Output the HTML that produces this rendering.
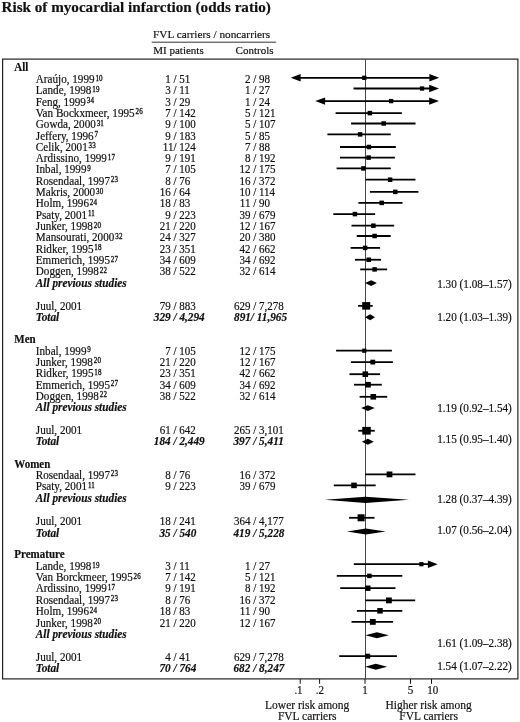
<!DOCTYPE html>
<html><head><meta charset="utf-8"><title>Risk of myocardial infarction (odds ratio)</title><style>
html,body{margin:0;padding:0;background:#fff;}
body{width:520px;height:722px;overflow:hidden;position:relative;}
svg{position:absolute;left:0;top:0;filter:grayscale(1);}
text{font-family:"Liberation Serif",serif;fill:#111;stroke:#111;stroke-width:0.18px;}
.sup{stroke-width:0.45px;}
</style></head><body>
<svg width="520" height="722" viewBox="0 0 520 722" font-size="11">
<text x="1.5" y="11.5" font-size="15.15" font-weight="bold">Risk of myocardial infarction (odds ratio)</text>
<text x="153.0" y="37.8" font-size="11.3">FVL carriers / noncarriers</text>
<path d="M151.7 42.2H276.2" stroke="#333" stroke-width="1"/>
<text x="153.3" y="53.7">MI patients</text>
<text x="235.6" y="53.7">Controls</text>
<rect x="2.6" y="59.1" width="515.3" height="619.8" fill="none" stroke="#222" stroke-width="1.2"/>
<path d="M365.5 59V679" stroke="#444" stroke-width="1"/>
<g stroke="#111" stroke-width="1"><path d="M300.2 679V683.8"/><path d="M319.6 679V683.8"/><path d="M365.0 679V683.8"/><path d="M410.5 679V683.8"/><path d="M431.5 679V683.8"/></g>
<g stroke="#000" stroke-width="1.8" fill="none">
<path d="M295.80 77.80H434.20"/>
<path d="M353.50 88.50H434.00"/>
<path d="M320.30 101.10H434.00"/>
<path d="M335.60 113.10H401.90"/>
<path d="M351.10 123.50H415.50"/>
<path d="M327.40 134.40H390.80"/>
<path d="M340.00 147.00H395.80"/>
<path d="M340.00 157.60H394.90"/>
<path d="M336.60 168.40H390.80"/>
<path d="M365.60 179.70H415.50"/>
<path d="M369.90 191.90H418.40"/>
<path d="M358.40 202.90H402.50"/>
<path d="M333.30 214.10H375.10"/>
<path d="M351.50 225.70H394.20"/>
<path d="M356.70 236.00H390.70"/>
<path d="M350.60 247.90H380.10"/>
<path d="M355.00 259.75H381.00"/>
<path d="M360.20 269.40H387.10"/>
<path d="M358.10 305.85H372.70"/>
<path d="M336.10 350.70H391.90"/>
<path d="M350.90 362.10H392.90"/>
<path d="M349.50 374.20H380.10"/>
<path d="M354.00 384.70H381.80"/>
<path d="M359.60 396.80H387.20"/>
<path d="M358.30 430.75H374.80"/>
<path d="M365.00 474.40H415.50"/>
<path d="M333.80 485.40H375.70"/>
<path d="M349.10 517.80H374.50"/>
<path d="M353.80 564.20H432.70"/>
<path d="M336.80 575.90H402.30"/>
<path d="M340.20 588.20H395.50"/>
<path d="M365.40 600.40H415.20"/>
<path d="M356.90 610.80H402.30"/>
<path d="M351.50 621.90H393.10"/>
<path d="M339.20 656.20H396.90"/>
</g>
<g fill="#000">
<polygon points="290.80,77.80 300.60,74.10 300.60,81.50"/>
<polygon points="439.20,77.80 429.40,74.10 429.40,81.50"/>
<rect x="362.15" y="75.65" width="4.30" height="4.30"/>
<polygon points="439.00,88.50 429.20,84.80 429.20,92.20"/>
<rect x="419.85" y="86.35" width="4.30" height="4.30"/>
<polygon points="315.30,101.10 325.10,97.40 325.10,104.80"/>
<polygon points="439.00,101.10 429.20,97.40 429.20,104.80"/>
<rect x="388.95" y="98.95" width="4.30" height="4.30"/>
<rect x="367.65" y="110.85" width="4.50" height="4.50"/>
<rect x="381.45" y="121.25" width="4.50" height="4.50"/>
<rect x="357.85" y="132.15" width="4.50" height="4.50"/>
<rect x="366.65" y="144.75" width="4.50" height="4.50"/>
<rect x="366.35" y="155.35" width="4.50" height="4.50"/>
<rect x="361.15" y="166.15" width="4.50" height="4.50"/>
<rect x="387.85" y="177.45" width="4.50" height="4.50"/>
<rect x="393.05" y="189.65" width="4.50" height="4.50"/>
<rect x="379.45" y="200.65" width="4.50" height="4.50"/>
<rect x="352.65" y="211.85" width="4.50" height="4.50"/>
<rect x="371.15" y="223.45" width="4.50" height="4.50"/>
<rect x="372.35" y="233.75" width="4.50" height="4.50"/>
<rect x="362.85" y="245.65" width="4.50" height="4.50"/>
<rect x="366.55" y="257.50" width="4.50" height="4.50"/>
<rect x="372.35" y="267.15" width="4.50" height="4.50"/>
<polygon points="365.00,283.10 371.20,280.15 376.90,283.10 371.20,286.05"/>
<rect x="362.20" y="302.10" width="8.00" height="7.50"/>
<polygon points="365.00,317.20 370.20,314.25 375.00,317.20 370.20,320.15"/>
<rect x="362.20" y="348.60" width="4.20" height="4.20"/>
<rect x="370.40" y="359.70" width="4.80" height="4.80"/>
<rect x="362.50" y="371.40" width="5.60" height="5.60"/>
<rect x="365.20" y="381.90" width="5.60" height="5.60"/>
<rect x="370.50" y="394.00" width="5.60" height="5.60"/>
<polygon points="361.20,408.10 367.80,405.15 374.80,408.10 367.80,411.05"/>
<rect x="362.25" y="426.90" width="8.50" height="7.70"/>
<polygon points="361.90,441.80 367.80,438.85 373.80,441.80 367.80,444.75"/>
<rect x="386.60" y="471.50" width="5.80" height="5.80"/>
<rect x="351.20" y="482.60" width="5.60" height="5.60"/>
<polygon points="324.80,499.80 365.40,496.65 409.00,499.80 365.40,502.95"/>
<rect x="357.60" y="514.30" width="7.00" height="7.00"/>
<polygon points="347.00,531.50 365.80,528.50 385.70,531.50 365.80,534.50"/>
<polygon points="437.70,564.20 427.90,560.50 427.90,567.90"/>
<rect x="419.30" y="562.10" width="4.20" height="4.20"/>
<rect x="367.15" y="573.65" width="4.50" height="4.50"/>
<rect x="365.10" y="585.50" width="5.40" height="5.40"/>
<rect x="386.00" y="597.50" width="5.80" height="5.80"/>
<rect x="377.25" y="608.05" width="5.50" height="5.50"/>
<rect x="369.90" y="619.00" width="5.80" height="5.80"/>
<polygon points="365.40,635.30 376.90,632.35 388.80,635.30 376.90,638.25"/>
<rect x="365.20" y="653.70" width="5.00" height="5.00"/>
<polygon points="365.10,666.80 375.80,663.85 387.20,666.80 375.80,669.75"/>
</g>
<text transform="matrix(1 0 0 1.06 14.30 71.10)" font-weight="bold">All</text>
<text transform="matrix(1 0 0 1.06 35.8 82.90)" font-size="11.15">Araújo, 1999</text>
<text class="sup" transform="matrix(0.64 0 0 0.6784 95.40 80.50)" letter-spacing="0.3">10</text>
<text transform="matrix(1 0 0 1.06 173.47 82.90)" text-anchor="end">1&#160;</text>
<text transform="matrix(1 0 0 1.06 173.47 82.90)">/&#160;51</text>
<text transform="matrix(1 0 0 1.06 253.17 82.90)" text-anchor="end">2&#160;</text>
<text transform="matrix(1 0 0 1.06 253.17 82.90)">/&#160;98</text>
<text transform="matrix(1 0 0 1.06 35.8 94.22)" font-size="11.15">Lande, 1998</text>
<text class="sup" transform="matrix(0.64 0 0 0.6784 92.29 91.82)" letter-spacing="0.3">19</text>
<text transform="matrix(1 0 0 1.06 173.47 94.22)" text-anchor="end">3&#160;</text>
<text transform="matrix(1 0 0 1.06 173.47 94.22)">/&#160;11</text>
<text transform="matrix(1 0 0 1.06 253.17 94.22)" text-anchor="end">1&#160;</text>
<text transform="matrix(1 0 0 1.06 253.17 94.22)">/&#160;27</text>
<text transform="matrix(1 0 0 1.06 35.8 105.54)" font-size="11.15">Feng, 1999</text>
<text class="sup" transform="matrix(0.64 0 0 0.6784 86.74 103.14)" letter-spacing="0.3">34</text>
<text transform="matrix(1 0 0 1.06 173.47 105.54)" text-anchor="end">3&#160;</text>
<text transform="matrix(1 0 0 1.06 173.47 105.54)">/&#160;29</text>
<text transform="matrix(1 0 0 1.06 253.17 105.54)" text-anchor="end">1&#160;</text>
<text transform="matrix(1 0 0 1.06 253.17 105.54)">/&#160;24</text>
<text transform="matrix(1 0 0 1.06 35.8 116.86)" font-size="11.15">Van Bockxmeer, 1995</text>
<text class="sup" transform="matrix(0.64 0 0 0.6784 135.48 114.46)" letter-spacing="0.3">26</text>
<text transform="matrix(1 0 0 1.06 173.47 116.86)" text-anchor="end">7&#160;</text>
<text transform="matrix(1 0 0 1.06 173.47 116.86)">/&#160;142</text>
<text transform="matrix(1 0 0 1.06 253.17 116.86)" text-anchor="end">5&#160;</text>
<text transform="matrix(1 0 0 1.06 253.17 116.86)">/&#160;121</text>
<text transform="matrix(1 0 0 1.06 35.8 128.18)" font-size="11.15">Gowda, 2000</text>
<text class="sup" transform="matrix(0.64 0 0 0.6784 96.63 125.78)" letter-spacing="0.3">31</text>
<text transform="matrix(1 0 0 1.06 173.47 128.18)" text-anchor="end">9&#160;</text>
<text transform="matrix(1 0 0 1.06 173.47 128.18)">/&#160;100</text>
<text transform="matrix(1 0 0 1.06 253.17 128.18)" text-anchor="end">5&#160;</text>
<text transform="matrix(1 0 0 1.06 253.17 128.18)">/&#160;107</text>
<text transform="matrix(1 0 0 1.06 35.8 139.50)" font-size="11.15">Jeffery, 1996</text>
<text class="sup" transform="matrix(0.64 0 0 0.6784 94.46 137.10)" letter-spacing="0.3">7</text>
<text transform="matrix(1 0 0 1.06 173.47 139.50)" text-anchor="end">9&#160;</text>
<text transform="matrix(1 0 0 1.06 173.47 139.50)">/&#160;183</text>
<text transform="matrix(1 0 0 1.06 253.17 139.50)" text-anchor="end">5&#160;</text>
<text transform="matrix(1 0 0 1.06 253.17 139.50)">/&#160;85</text>
<text transform="matrix(1 0 0 1.06 35.8 150.82)" font-size="11.15">Celik, 2001</text>
<text class="sup" transform="matrix(0.64 0 0 0.6784 88.60 148.42)" letter-spacing="0.3">33</text>
<text transform="matrix(1 0 0 1.06 173.47 150.82)" text-anchor="end">11</text>
<text transform="matrix(1 0 0 1.06 173.47 150.82)">/&#160;124</text>
<text transform="matrix(1 0 0 1.06 253.17 150.82)" text-anchor="end">7&#160;</text>
<text transform="matrix(1 0 0 1.06 253.17 150.82)">/&#160;88</text>
<text transform="matrix(1 0 0 1.06 35.8 162.14)" font-size="11.15">Ardissino, 1999</text>
<text class="sup" transform="matrix(0.64 0 0 0.6784 107.79 159.74)" letter-spacing="0.3">17</text>
<text transform="matrix(1 0 0 1.06 173.47 162.14)" text-anchor="end">9&#160;</text>
<text transform="matrix(1 0 0 1.06 173.47 162.14)">/&#160;191</text>
<text transform="matrix(1 0 0 1.06 253.17 162.14)" text-anchor="end">8&#160;</text>
<text transform="matrix(1 0 0 1.06 253.17 162.14)">/&#160;192</text>
<text transform="matrix(1 0 0 1.06 35.8 173.46)" font-size="11.15">Inbal, 1999</text>
<text class="sup" transform="matrix(0.64 0 0 0.6784 87.35 171.06)" letter-spacing="0.3">9</text>
<text transform="matrix(1 0 0 1.06 173.47 173.46)" text-anchor="end">7&#160;</text>
<text transform="matrix(1 0 0 1.06 173.47 173.46)">/&#160;105</text>
<text transform="matrix(1 0 0 1.06 253.17 173.46)" text-anchor="end">12&#160;</text>
<text transform="matrix(1 0 0 1.06 253.17 173.46)">/&#160;175</text>
<text transform="matrix(1 0 0 1.06 35.8 184.78)" font-size="11.15">Rosendaal, 1997</text>
<text class="sup" transform="matrix(0.64 0 0 0.6784 110.87 182.38)" letter-spacing="0.3">23</text>
<text transform="matrix(1 0 0 1.06 173.47 184.78)" text-anchor="end">8&#160;</text>
<text transform="matrix(1 0 0 1.06 173.47 184.78)">/&#160;76</text>
<text transform="matrix(1 0 0 1.06 253.17 184.78)" text-anchor="end">16&#160;</text>
<text transform="matrix(1 0 0 1.06 253.17 184.78)">/&#160;372</text>
<text transform="matrix(1 0 0 1.06 35.8 196.10)" font-size="11.15">Makris, 2000</text>
<text class="sup" transform="matrix(0.64 0 0 0.6784 96.02 193.70)" letter-spacing="0.3">30</text>
<text transform="matrix(1 0 0 1.06 173.47 196.10)" text-anchor="end">16&#160;</text>
<text transform="matrix(1 0 0 1.06 173.47 196.10)">/&#160;64</text>
<text transform="matrix(1 0 0 1.06 253.17 196.10)" text-anchor="end">10&#160;</text>
<text transform="matrix(1 0 0 1.06 253.17 196.10)">/&#160;114</text>
<text transform="matrix(1 0 0 1.06 35.8 207.42)" font-size="11.15">Holm, 1996</text>
<text class="sup" transform="matrix(0.64 0 0 0.6784 89.83 205.02)" letter-spacing="0.3">24</text>
<text transform="matrix(1 0 0 1.06 173.47 207.42)" text-anchor="end">18&#160;</text>
<text transform="matrix(1 0 0 1.06 173.47 207.42)">/&#160;83</text>
<text transform="matrix(1 0 0 1.06 253.17 207.42)" text-anchor="end">11&#160;</text>
<text transform="matrix(1 0 0 1.06 253.17 207.42)">/&#160;90</text>
<text transform="matrix(1 0 0 1.06 35.8 218.74)" font-size="11.15">Psaty, 2001</text>
<text class="sup" transform="matrix(0.64 0 0 0.6784 87.88 216.34)" letter-spacing="0.3">11</text>
<text transform="matrix(1 0 0 1.06 173.47 218.74)" text-anchor="end">9&#160;</text>
<text transform="matrix(1 0 0 1.06 173.47 218.74)">/&#160;223</text>
<text transform="matrix(1 0 0 1.06 253.17 218.74)" text-anchor="end">39&#160;</text>
<text transform="matrix(1 0 0 1.06 253.17 218.74)">/&#160;679</text>
<text transform="matrix(1 0 0 1.06 35.8 230.06)" font-size="11.15">Junker, 1998</text>
<text class="sup" transform="matrix(0.64 0 0 0.6784 93.71 227.66)" letter-spacing="0.3">20</text>
<text transform="matrix(1 0 0 1.06 173.47 230.06)" text-anchor="end">21&#160;</text>
<text transform="matrix(1 0 0 1.06 173.47 230.06)">/&#160;220</text>
<text transform="matrix(1 0 0 1.06 253.17 230.06)" text-anchor="end">12&#160;</text>
<text transform="matrix(1 0 0 1.06 253.17 230.06)">/&#160;167</text>
<text transform="matrix(1 0 0 1.06 35.8 241.38)" font-size="11.15">Mansourati, 2000</text>
<text class="sup" transform="matrix(0.64 0 0 0.6784 115.19 238.98)" letter-spacing="0.3">32</text>
<text transform="matrix(1 0 0 1.06 173.47 241.38)" text-anchor="end">24&#160;</text>
<text transform="matrix(1 0 0 1.06 173.47 241.38)">/&#160;327</text>
<text transform="matrix(1 0 0 1.06 253.17 241.38)" text-anchor="end">20&#160;</text>
<text transform="matrix(1 0 0 1.06 253.17 241.38)">/&#160;380</text>
<text transform="matrix(1 0 0 1.06 35.8 252.70)" font-size="11.15">Ridker, 1995</text>
<text class="sup" transform="matrix(0.64 0 0 0.6784 94.33 250.30)" letter-spacing="0.3">18</text>
<text transform="matrix(1 0 0 1.06 173.47 252.70)" text-anchor="end">23&#160;</text>
<text transform="matrix(1 0 0 1.06 173.47 252.70)">/&#160;351</text>
<text transform="matrix(1 0 0 1.06 253.17 252.70)" text-anchor="end">42&#160;</text>
<text transform="matrix(1 0 0 1.06 253.17 252.70)">/&#160;662</text>
<text transform="matrix(1 0 0 1.06 35.8 264.02)" font-size="11.15">Emmerich, 1995</text>
<text class="sup" transform="matrix(0.64 0 0 0.6784 110.87 261.62)" letter-spacing="0.3">27</text>
<text transform="matrix(1 0 0 1.06 173.47 264.02)" text-anchor="end">34&#160;</text>
<text transform="matrix(1 0 0 1.06 173.47 264.02)">/&#160;609</text>
<text transform="matrix(1 0 0 1.06 253.17 264.02)" text-anchor="end">34&#160;</text>
<text transform="matrix(1 0 0 1.06 253.17 264.02)">/&#160;692</text>
<text transform="matrix(1 0 0 1.06 35.8 275.34)" font-size="11.15">Doggen, 1998</text>
<text class="sup" transform="matrix(0.64 0 0 0.6784 99.72 272.94)" letter-spacing="0.3">22</text>
<text transform="matrix(1 0 0 1.06 173.47 275.34)" text-anchor="end">38&#160;</text>
<text transform="matrix(1 0 0 1.06 173.47 275.34)">/&#160;522</text>
<text transform="matrix(1 0 0 1.06 253.17 275.34)" text-anchor="end">32&#160;</text>
<text transform="matrix(1 0 0 1.06 253.17 275.34)">/&#160;614</text>
<text transform="matrix(1 0 0 1.06 35.80 286.50)" font-size="11.3" font-weight="bold" font-style="italic">All previous studies</text>
<text transform="matrix(1 0 0 1.06 511.80 287.50)" font-size="11.2" text-anchor="end">1.30 (1.08–1.57)</text>
<text transform="matrix(1 0 0 1.06 35.80 309.70)" font-size="11.15">Juul, 2001</text>
<text transform="matrix(1 0 0 1.06 173.47 309.70)" text-anchor="end">79&#160;</text>
<text transform="matrix(1 0 0 1.06 173.47 309.70)">/&#160;883</text>
<text transform="matrix(1 0 0 1.06 253.17 309.70)" text-anchor="end">629&#160;</text>
<text transform="matrix(1 0 0 1.06 253.17 309.70)">/&#160;7,278</text>
<text transform="matrix(1 0 0 1.06 35.80 321.30)" font-size="11.3" font-weight="bold" font-style="italic">Total</text>
<text transform="matrix(1 0 0 1.06 173.47 321.30)" font-size="11.25" font-weight="bold" font-style="italic" text-anchor="end">329&#160;</text>
<text transform="matrix(1 0 0 1.06 173.47 321.30)" font-size="11.25" font-weight="bold" font-style="italic">/&#160;4,294</text>
<text transform="matrix(1 0 0 1.06 250.87 321.30)" font-size="11.25" font-weight="bold" font-style="italic" text-anchor="end">891</text>
<text transform="matrix(1 0 0 1.06 250.87 321.30)" font-size="11.25" font-weight="bold" font-style="italic">/&#160;11,965</text>
<text transform="matrix(1 0 0 1.06 511.80 321.20)" font-size="11.2" text-anchor="end">1.20 (1.03–1.39)</text>
<text transform="matrix(1 0 0 1.06 14.30 343.40)" font-weight="bold">Men</text>
<text transform="matrix(1 0 0 1.06 35.8 354.50)" font-size="11.15">Inbal, 1999</text>
<text class="sup" transform="matrix(0.64 0 0 0.6784 87.35 352.10)" letter-spacing="0.3">9</text>
<text transform="matrix(1 0 0 1.06 173.47 354.50)" text-anchor="end">7&#160;</text>
<text transform="matrix(1 0 0 1.06 173.47 354.50)">/&#160;105</text>
<text transform="matrix(1 0 0 1.06 253.17 354.50)" text-anchor="end">12&#160;</text>
<text transform="matrix(1 0 0 1.06 253.17 354.50)">/&#160;175</text>
<text transform="matrix(1 0 0 1.06 35.8 365.60)" font-size="11.15">Junker, 1998</text>
<text class="sup" transform="matrix(0.64 0 0 0.6784 93.71 363.20)" letter-spacing="0.3">20</text>
<text transform="matrix(1 0 0 1.06 173.47 365.60)" text-anchor="end">21&#160;</text>
<text transform="matrix(1 0 0 1.06 173.47 365.60)">/&#160;220</text>
<text transform="matrix(1 0 0 1.06 253.17 365.60)" text-anchor="end">12&#160;</text>
<text transform="matrix(1 0 0 1.06 253.17 365.60)">/&#160;167</text>
<text transform="matrix(1 0 0 1.06 35.8 377.10)" font-size="11.15">Ridker, 1995</text>
<text class="sup" transform="matrix(0.64 0 0 0.6784 94.33 374.70)" letter-spacing="0.3">18</text>
<text transform="matrix(1 0 0 1.06 173.47 377.10)" text-anchor="end">23&#160;</text>
<text transform="matrix(1 0 0 1.06 173.47 377.10)">/&#160;351</text>
<text transform="matrix(1 0 0 1.06 253.17 377.10)" text-anchor="end">42&#160;</text>
<text transform="matrix(1 0 0 1.06 253.17 377.10)">/&#160;662</text>
<text transform="matrix(1 0 0 1.06 35.8 388.60)" font-size="11.15">Emmerich, 1995</text>
<text class="sup" transform="matrix(0.64 0 0 0.6784 110.87 386.20)" letter-spacing="0.3">27</text>
<text transform="matrix(1 0 0 1.06 173.47 388.60)" text-anchor="end">34&#160;</text>
<text transform="matrix(1 0 0 1.06 173.47 388.60)">/&#160;609</text>
<text transform="matrix(1 0 0 1.06 253.17 388.60)" text-anchor="end">34&#160;</text>
<text transform="matrix(1 0 0 1.06 253.17 388.60)">/&#160;692</text>
<text transform="matrix(1 0 0 1.06 35.8 399.80)" font-size="11.15">Doggen, 1998</text>
<text class="sup" transform="matrix(0.64 0 0 0.6784 99.72 397.40)" letter-spacing="0.3">22</text>
<text transform="matrix(1 0 0 1.06 173.47 399.80)" text-anchor="end">38&#160;</text>
<text transform="matrix(1 0 0 1.06 173.47 399.80)">/&#160;522</text>
<text transform="matrix(1 0 0 1.06 253.17 399.80)" text-anchor="end">32&#160;</text>
<text transform="matrix(1 0 0 1.06 253.17 399.80)">/&#160;614</text>
<text transform="matrix(1 0 0 1.06 35.80 411.00)" font-size="11.3" font-weight="bold" font-style="italic">All previous studies</text>
<text transform="matrix(1 0 0 1.06 511.80 412.30)" font-size="11.2" text-anchor="end">1.19 (0.92–1.54)</text>
<text transform="matrix(1 0 0 1.06 35.80 433.70)" font-size="11.15">Juul, 2001</text>
<text transform="matrix(1 0 0 1.06 173.47 433.70)" text-anchor="end">61&#160;</text>
<text transform="matrix(1 0 0 1.06 173.47 433.70)">/&#160;642</text>
<text transform="matrix(1 0 0 1.06 253.17 433.70)" text-anchor="end">265&#160;</text>
<text transform="matrix(1 0 0 1.06 253.17 433.70)">/&#160;3,101</text>
<text transform="matrix(1 0 0 1.06 35.80 444.90)" font-size="11.3" font-weight="bold" font-style="italic">Total</text>
<text transform="matrix(1 0 0 1.06 173.47 444.90)" font-size="11.25" font-weight="bold" font-style="italic" text-anchor="end">184&#160;</text>
<text transform="matrix(1 0 0 1.06 173.47 444.90)" font-size="11.25" font-weight="bold" font-style="italic">/&#160;2,449</text>
<text transform="matrix(1 0 0 1.06 253.17 444.90)" font-size="11.25" font-weight="bold" font-style="italic" text-anchor="end">397&#160;</text>
<text transform="matrix(1 0 0 1.06 253.17 444.90)" font-size="11.25" font-weight="bold" font-style="italic">/&#160;5,411</text>
<text transform="matrix(1 0 0 1.06 511.80 443.10)" font-size="11.2" text-anchor="end">1.15 (0.95–1.40)</text>
<text transform="matrix(1 0 0 1.06 14.30 467.70)" font-weight="bold">Women</text>
<text transform="matrix(1 0 0 1.06 35.8 478.80)" font-size="11.15">Rosendaal, 1997</text>
<text class="sup" transform="matrix(0.64 0 0 0.6784 110.87 476.40)" letter-spacing="0.3">23</text>
<text transform="matrix(1 0 0 1.06 173.47 478.80)" text-anchor="end">8&#160;</text>
<text transform="matrix(1 0 0 1.06 173.47 478.80)">/&#160;76</text>
<text transform="matrix(1 0 0 1.06 253.17 478.80)" text-anchor="end">16&#160;</text>
<text transform="matrix(1 0 0 1.06 253.17 478.80)">/&#160;372</text>
<text transform="matrix(1 0 0 1.06 35.8 489.90)" font-size="11.15">Psaty, 2001</text>
<text class="sup" transform="matrix(0.64 0 0 0.6784 87.88 487.50)" letter-spacing="0.3">11</text>
<text transform="matrix(1 0 0 1.06 173.47 489.90)" text-anchor="end">9&#160;</text>
<text transform="matrix(1 0 0 1.06 173.47 489.90)">/&#160;223</text>
<text transform="matrix(1 0 0 1.06 253.17 489.90)" text-anchor="end">39&#160;</text>
<text transform="matrix(1 0 0 1.06 253.17 489.90)">/&#160;679</text>
<text transform="matrix(1 0 0 1.06 35.80 502.40)" font-size="11.3" font-weight="bold" font-style="italic">All previous studies</text>
<text transform="matrix(1 0 0 1.06 511.80 503.20)" font-size="11.2" text-anchor="end">1.28 (0.37–4.39)</text>
<text transform="matrix(1 0 0 1.06 35.80 525.00)" font-size="11.15">Juul, 2001</text>
<text transform="matrix(1 0 0 1.06 173.47 525.00)" text-anchor="end">18&#160;</text>
<text transform="matrix(1 0 0 1.06 173.47 525.00)">/&#160;241</text>
<text transform="matrix(1 0 0 1.06 253.17 525.00)" text-anchor="end">364&#160;</text>
<text transform="matrix(1 0 0 1.06 253.17 525.00)">/&#160;4,177</text>
<text transform="matrix(1 0 0 1.06 35.80 536.80)" font-size="11.3" font-weight="bold" font-style="italic">Total</text>
<text transform="matrix(1 0 0 1.06 173.47 536.80)" font-size="11.25" font-weight="bold" font-style="italic" text-anchor="end">35&#160;</text>
<text transform="matrix(1 0 0 1.06 173.47 536.80)" font-size="11.25" font-weight="bold" font-style="italic">/&#160;540</text>
<text transform="matrix(1 0 0 1.06 253.17 536.80)" font-size="11.25" font-weight="bold" font-style="italic" text-anchor="end">419&#160;</text>
<text transform="matrix(1 0 0 1.06 253.17 536.80)" font-size="11.25" font-weight="bold" font-style="italic">/&#160;5,228</text>
<text transform="matrix(1 0 0 1.06 511.80 534.30)" font-size="11.2" text-anchor="end">1.07 (0.56–2.04)</text>
<text transform="matrix(1 0 0 1.06 14.30 557.80)" font-weight="bold">Premature</text>
<text transform="matrix(1 0 0 1.06 35.8 570.20)" font-size="11.15">Lande, 1998</text>
<text class="sup" transform="matrix(0.64 0 0 0.6784 92.29 567.80)" letter-spacing="0.3">19</text>
<text transform="matrix(1 0 0 1.06 173.47 570.20)" text-anchor="end">3&#160;</text>
<text transform="matrix(1 0 0 1.06 173.47 570.20)">/&#160;11</text>
<text transform="matrix(1 0 0 1.06 253.17 570.20)" text-anchor="end">1&#160;</text>
<text transform="matrix(1 0 0 1.06 253.17 570.20)">/&#160;27</text>
<text transform="matrix(1 0 0 1.06 35.8 581.20)" font-size="11.15">Van Borckmeer, 1995</text>
<text class="sup" transform="matrix(0.64 0 0 0.6784 133.62 578.80)" letter-spacing="0.3">26</text>
<text transform="matrix(1 0 0 1.06 173.47 581.20)" text-anchor="end">7&#160;</text>
<text transform="matrix(1 0 0 1.06 173.47 581.20)">/&#160;142</text>
<text transform="matrix(1 0 0 1.06 253.17 581.20)" text-anchor="end">5&#160;</text>
<text transform="matrix(1 0 0 1.06 253.17 581.20)">/&#160;121</text>
<text transform="matrix(1 0 0 1.06 35.8 592.30)" font-size="11.15">Ardissino, 1999</text>
<text class="sup" transform="matrix(0.64 0 0 0.6784 107.79 589.90)" letter-spacing="0.3">17</text>
<text transform="matrix(1 0 0 1.06 173.47 592.30)" text-anchor="end">9&#160;</text>
<text transform="matrix(1 0 0 1.06 173.47 592.30)">/&#160;191</text>
<text transform="matrix(1 0 0 1.06 253.17 592.30)" text-anchor="end">8&#160;</text>
<text transform="matrix(1 0 0 1.06 253.17 592.30)">/&#160;192</text>
<text transform="matrix(1 0 0 1.06 35.8 603.60)" font-size="11.15">Rosendaal, 1997</text>
<text class="sup" transform="matrix(0.64 0 0 0.6784 110.87 601.20)" letter-spacing="0.3">23</text>
<text transform="matrix(1 0 0 1.06 173.47 603.60)" text-anchor="end">8&#160;</text>
<text transform="matrix(1 0 0 1.06 173.47 603.60)">/&#160;76</text>
<text transform="matrix(1 0 0 1.06 253.17 603.60)" text-anchor="end">16&#160;</text>
<text transform="matrix(1 0 0 1.06 253.17 603.60)">/&#160;372</text>
<text transform="matrix(1 0 0 1.06 35.8 615.00)" font-size="11.15">Holm, 1996</text>
<text class="sup" transform="matrix(0.64 0 0 0.6784 89.83 612.60)" letter-spacing="0.3">24</text>
<text transform="matrix(1 0 0 1.06 173.47 615.00)" text-anchor="end">18&#160;</text>
<text transform="matrix(1 0 0 1.06 173.47 615.00)">/&#160;83</text>
<text transform="matrix(1 0 0 1.06 253.17 615.00)" text-anchor="end">11&#160;</text>
<text transform="matrix(1 0 0 1.06 253.17 615.00)">/&#160;90</text>
<text transform="matrix(1 0 0 1.06 35.8 626.50)" font-size="11.15">Junker, 1998</text>
<text class="sup" transform="matrix(0.64 0 0 0.6784 93.71 624.10)" letter-spacing="0.3">20</text>
<text transform="matrix(1 0 0 1.06 173.47 626.50)" text-anchor="end">21&#160;</text>
<text transform="matrix(1 0 0 1.06 173.47 626.50)">/&#160;220</text>
<text transform="matrix(1 0 0 1.06 253.17 626.50)" text-anchor="end">12&#160;</text>
<text transform="matrix(1 0 0 1.06 253.17 626.50)">/&#160;167</text>
<text transform="matrix(1 0 0 1.06 35.80 638.30)" font-size="11.3" font-weight="bold" font-style="italic">All previous studies</text>
<text transform="matrix(1 0 0 1.06 511.80 647.10)" font-size="11.2" text-anchor="end">1.61 (1.09–2.38)</text>
<text transform="matrix(1 0 0 1.06 35.80 660.60)" font-size="11.15">Juul, 2001</text>
<text transform="matrix(1 0 0 1.06 173.47 660.60)" text-anchor="end">4&#160;</text>
<text transform="matrix(1 0 0 1.06 173.47 660.60)">/&#160;41</text>
<text transform="matrix(1 0 0 1.06 253.17 660.60)" text-anchor="end">629&#160;</text>
<text transform="matrix(1 0 0 1.06 253.17 660.60)">/&#160;7,278</text>
<text transform="matrix(1 0 0 1.06 35.80 672.40)" font-size="11.3" font-weight="bold" font-style="italic">Total</text>
<text transform="matrix(1 0 0 1.06 173.47 672.40)" font-size="11.25" font-weight="bold" font-style="italic" text-anchor="end">70&#160;</text>
<text transform="matrix(1 0 0 1.06 173.47 672.40)" font-size="11.25" font-weight="bold" font-style="italic">/&#160;764</text>
<text transform="matrix(1 0 0 1.06 253.17 672.40)" font-size="11.25" font-weight="bold" font-style="italic" text-anchor="end">682&#160;</text>
<text transform="matrix(1 0 0 1.06 253.17 672.40)" font-size="11.25" font-weight="bold" font-style="italic">/&#160;8,247</text>
<text transform="matrix(1 0 0 1.06 511.80 669.60)" font-size="11.2" text-anchor="end">1.54 (1.07–2.22)</text>
<text transform="matrix(1 0 0 1.06 298.50 693.70)" text-anchor="middle">.1</text>
<text transform="matrix(1 0 0 1.06 319.80 693.70)" text-anchor="middle">.2</text>
<text transform="matrix(1 0 0 1.06 365.00 693.70)" text-anchor="middle">1</text>
<text transform="matrix(1 0 0 1.06 410.50 693.70)" text-anchor="middle">5</text>
<text transform="matrix(1 0 0 1.06 432.80 693.70)" text-anchor="middle">10</text>
<text transform="matrix(1 0 0 1.06 307.20 709.40)" font-size="11.5" text-anchor="middle">Lower risk among</text>
<text transform="matrix(1 0 0 1.06 307.20 720.00)" font-size="11.5" text-anchor="middle">FVL carriers</text>
<text transform="matrix(1 0 0 1.06 428.60 709.40)" font-size="11.5" text-anchor="middle">Higher risk among</text>
<text transform="matrix(1 0 0 1.06 428.60 720.00)" font-size="11.5" text-anchor="middle">FVL carriers</text>
</svg>
</body></html>
